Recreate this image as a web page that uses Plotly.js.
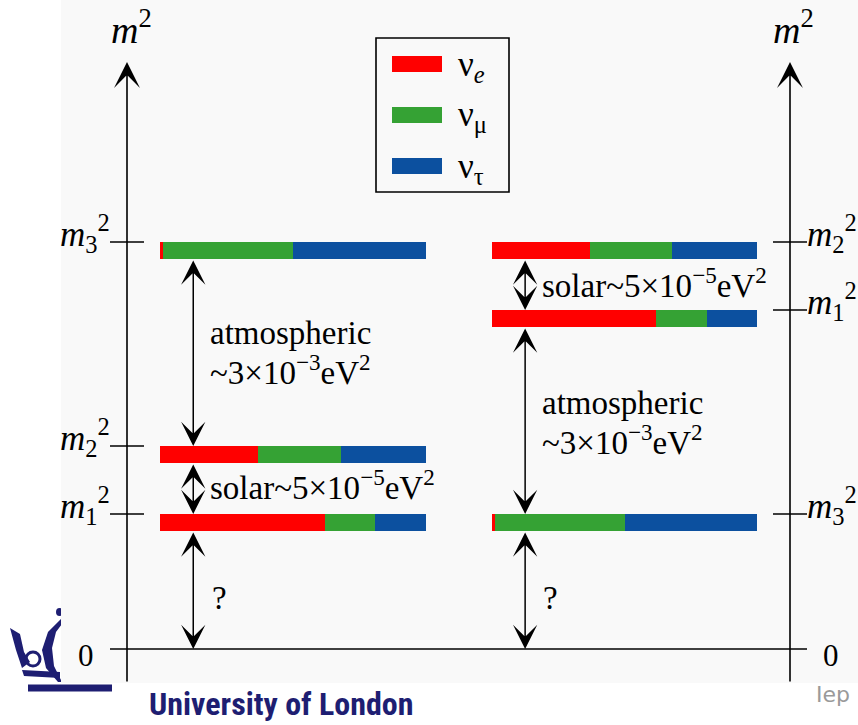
<!DOCTYPE html>
<html><head><meta charset="utf-8">
<script src="https://cdn.plot.ly/plotly-3.0.1.min.js"></script>
<style>html,body{margin:0;padding:0;background:#fff;}#chart{width:858px;height:725px;}</style>
</head><body><div id="chart"></div>
<script>
// ---- data ----
const flavours = ['ν<sub><i>e</i></sub>', 'ν<sub>μ</sub>', 'ν<sub>τ</sub>'];
const flavourColors = ['#ff0000', '#35a234', '#0c509f'];
const massStates = ['1', '2', '3'];
// flavour content of each mass state (m1, m2, m3)
const fracE   = [0.62, 0.37, 0.01];
const fracMu  = [0.19, 0.31, 0.49];
const fracTau = [0.19, 0.32, 0.50];
// schematic m² levels (arbitrary units) for m1, m2, m3
const levelsNormal   = [1.35, 2.03, 4.07];
const levelsInverted = [3.39, 4.07, 1.35];
const solarText = 'solar~5×10<sup>−5</sup>eV<sup>2</sup>';
const atmLine1 = 'atmospheric';
const atmLine2 = '~3×10<sup>−3</sup>eV<sup>2</sup>';

// ---- layout helpers ----
const W = 858, H = 725;
const px = x => x / W, py = y => 1 - y / H;
const SERIF = "'Liberation Serif', 'Times New Roman', 'DejaVu Serif', serif";
const BAR_T = 0.17;
const fracs = [fracE, fracMu, fracTau];

const traces = [];
[['x', levelsNormal], ['x2', levelsInverted]].forEach(([xa, lv]) => {
  fracs.forEach((f, k) => {
    traces.push({
      type: 'bar', orientation: 'h', xaxis: xa, yaxis: 'y',
      x: f, y: lv, offset: -BAR_T, width: BAR_T,
      marker: {color: flavourColors[k], line: {width: 0}},
      name: flavours[k], showlegend: false, hoverinfo: 'skip', cliponaxis: false
    });
  });
});

const shapes = [];
const navy = '#1e1e72';
// logo (partly hidden behind chart image)
shapes.push({type:'line', xref:'paper', yref:'paper', x0:px(28), x1:px(112), y0:py(688), y1:py(688), line:{color:navy, width:7}, layer:'below'});
function pth(pts){ return pts.map((p,i)=>(i?'L':'M')+px(p[0]).toFixed(5)+','+py(p[1]).toFixed(5)).join(' ')+' Z'; }
shapes.push({type:'path', xref:'paper', yref:'paper', path: pth([[10,628],[20,634],[24,652],[30,662],[22,668],[16,650]]), fillcolor:navy, line:{width:0}, layer:'below'});
shapes.push({type:'path', xref:'paper', yref:'paper', path: pth([[62,618],[48,632],[42,650],[46,668],[58,682],[62,682],[54,666],[52,648],[56,632],[62,624]]), fillcolor:navy, line:{width:0}, layer:'below'});
shapes.push({type:'circle', xref:'paper', yref:'paper', x0:px(26), x1:px(40), y0:py(652), y1:py(666), line:{color:navy, width:3}, layer:'below'});
shapes.push({type:'path', xref:'paper', yref:'paper', path: pth([[22,670],[60,672],[60,678],[24,676]]), fillcolor:navy, line:{width:0}, layer:'below'});
shapes.push({type:'circle', xref:'paper', yref:'paper', x0:px(56), x1:px(63), y0:py(608), y1:py(616), fillcolor:navy, line:{width:0}, layer:'below'});
// chart image background
shapes.push({type:'rect', xref:'paper', yref:'paper', x0:px(61), x1:px(858), y0:py(683), y1:py(0), fillcolor:'#f9f9f9', line:{width:0}, layer:'below'});
// zero line
shapes.push({type:'line', xref:'paper', yref:'y', x0:px(110), x1:px(807), y0:0, y1:0, line:{color:'#000', width:1.6}});
// level ticks
levelsNormal.forEach(v => shapes.push({type:'line', xref:'paper', yref:'y', x0:px(110), x1:px(144), y0:v, y1:v, line:{color:'#000', width:1.6}}));
levelsInverted.forEach(v => shapes.push({type:'line', xref:'paper', yref:'y', x0:px(773), x1:px(807), y0:v, y1:v, line:{color:'#000', width:1.6}}));
// legend box
shapes.push({type:'rect', xref:'paper', yref:'paper', x0:px(376), x1:px(509), y0:py(192), y1:py(38), line:{color:'#000', width:1.6}, fillcolor:'rgba(0,0,0,0)'});
const swY = [64, 115, 166];
flavourColors.forEach((c, k) => shapes.push({type:'rect', xref:'paper', yref:'paper', x0:px(392), x1:px(442), y0:py(swY[k]+8), y1:py(swY[k]-8), fillcolor:c, line:{width:0}}));

const annotations = [];
const txt = (x, y, text, size, extra) => Object.assign({xref:'paper', yref:'paper', x:px(x), y:py(y), text, showarrow:false, font:{family:SERIF, size, color:'#000'}, xanchor:'left', yanchor:'middle'}, extra || {});
// axis titles
annotations.push(txt(109, 27, '<i>m</i><sup>2</sup>', 38));
annotations.push(txt(771, 27, '<i>m</i><sup>2</sup>', 38));
// axis arrows
[127, 790].forEach(x => annotations.push({xref:'paper', yref:'paper', x:px(x), y:py(62), ax:0, ay:621, axref:'pixel', ayref:'pixel', text:'', showarrow:true, arrowhead:3, arrowsize:2.7, arrowwidth:1.6, arrowcolor:'#000', arrowside:'end', standoff:0}));
// level labels
massStates.forEach((s, i) => {
  annotations.push({xref:'paper', yref:'y', x:px(112), y:levelsNormal[i], yshift:9, xanchor:'right', yanchor:'middle', showarrow:false, text:'<i>m</i><sub>'+s+'</sub><sup>2</sup>', font:{family:SERIF, size:35, color:'#000'}});
  annotations.push({xref:'paper', yref:'y', x:px(805), y:levelsInverted[i], yshift:9, xanchor:'left', yanchor:'middle', showarrow:false, text:'<i>m</i><sub>'+s+'</sub><sup>2</sup>', font:{family:SERIF, size:35, color:'#000'}});
});
annotations.push(txt(86, 655, '0', 31, {xanchor:'center'}));
annotations.push(txt(831, 655, '0', 31, {xanchor:'center'}));
// gap arrows
function vArrow(xa, yTip, yTail) {
  return {xref:xa, yref:'y', x:0.125, y:yTip, axref:xa, ayref:'y', ax:0.125, ay:yTail, text:'', showarrow:true,
    arrowhead:3, startarrowhead:3, arrowside:'end+start', arrowsize:2.7, startarrowsize:2.7, arrowwidth:1.5, arrowcolor:'#000', standoff:0, startstandoff:0};
}
const N = levelsNormal, I = levelsInverted;
annotations.push(vArrow('x', N[1], N[2] - BAR_T));
annotations.push(vArrow('x', N[0], N[1] - BAR_T));
annotations.push(vArrow('x', 0, N[0] - BAR_T));
annotations.push(vArrow('x2', I[0], I[1] - BAR_T));
annotations.push(vArrow('x2', I[2], I[0] - BAR_T));
annotations.push(vArrow('x2', 0, I[2] - BAR_T));
// gap labels (baseline - 13 ≈ box centre)
const GS = 33;
annotations.push(txt(208, 333, atmLine1, GS));
annotations.push(txt(208, 370, atmLine2, GS));
annotations.push(txt(208, 485, solarText, GS));
annotations.push(txt(540, 283, solarText, GS));
annotations.push(txt(540, 403, atmLine1, GS));
annotations.push(txt(540, 440, atmLine2, GS));
annotations.push(txt(210, 598, '?', GS));
annotations.push(txt(541, 598, '?', GS));
// legend labels
flavours.forEach((f, k) => annotations.push(txt(456, swY[k] + 2, f, 35)));
// slide footer
annotations.push(txt(147, 704, '<b>University of London</b>', 32, {font:{family:"'Liberation Sans Narrow', 'Roboto Condensed', 'Liberation Sans', sans-serif", size:32, color:navy}}));
annotations.push(txt(814, 694, 'Iep', 22, {font:{family:"'DejaVu Sans', sans-serif", size:22, color:'#9a9a9a'}}));

const axBase = {range:[0,1], visible:false, fixedrange:true, showgrid:false, zeroline:false};
const layout = {
  width: W, height: H, margin:{l:0, r:0, t:0, b:0},
  paper_bgcolor:'#ffffff', plot_bgcolor:'rgba(0,0,0,0)',
  barmode:'stack', showlegend:false,
  font:{family:SERIF},
  xaxis: Object.assign({domain:[160/W, 426/W], anchor:'y'}, axBase),
  xaxis2: Object.assign({domain:[492/W, 757/W], anchor:'y'}, axBase),
  yaxis: {range:[-0.76, 6.49], domain:[0,1], visible:false, fixedrange:true, showgrid:false, zeroline:false},
  shapes, annotations
};
Plotly.newPlot('chart', traces, layout, {staticPlot:true, displayModeBar:false});
</script></body></html>
